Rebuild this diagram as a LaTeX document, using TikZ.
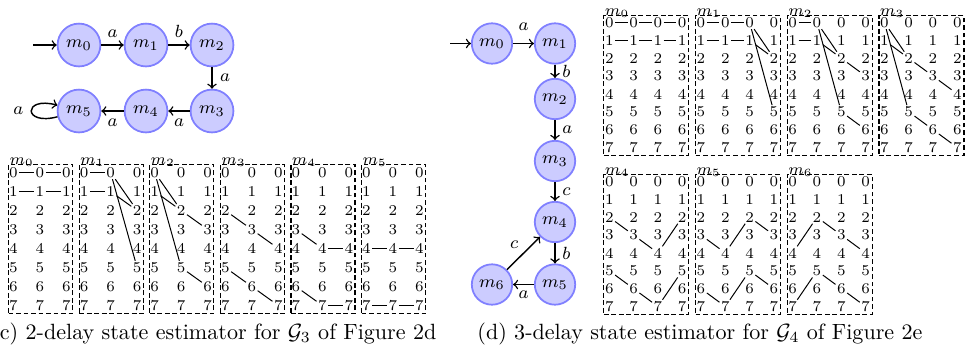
\RequirePackage{fix-cm}
\documentclass[tikz,border=0pt]{standalone}
\begin{document}
\begin{tikzpicture}[x=0.453pt,y=-0.453pt,
  st3/.style={circle,draw=blue!50,fill=blue!20,line width=0.8pt,minimum size=19.4pt,inner sep=0pt,font=\fontsize{8}{9.6}\selectfont},
  st4/.style={st3,minimum size=18.3pt},
  tr/.style={->,line width=0.65pt},
  lab/.style={font=\fontsize{8}{9.6}\selectfont,inner sep=3.3pt},
  dig/.style={font=\fontsize{6.8}{7.5}\selectfont,inner sep=0.5pt},
  mbox/.style={draw,line width=0.5pt,dash pattern=on 2.2pt off 1.2pt,anchor=north west,inner sep=0pt},
  mlab/.style={font=\fontsize{7}{8}\selectfont,inner sep=0pt,anchor=base west},
  ml/.style={line width=0.45pt},
  captxt/.style={font=\fontsize{10}{12}\selectfont,inner sep=0pt,anchor=base west}
]
\useasboundingbox (0,0) rectangle (969,349);

% ---------- G3 automaton ----------
\node[st3] (a0) at (79,45) {$m_0$};
\node[st3] (a1) at (146,45) {$m_1$};
\node[st3] (a2) at (212,45) {$m_2$};
\node[st3] (a3) at (212,111) {$m_3$};
\node[st3] (a4) at (146,111) {$m_4$};
\node[st3] (a5) at (79,111) {$m_5$};
\coordinate (ai) at (33,45);
\draw[tr] (ai) -- (a0);
\draw[tr] (a0) -- node[lab,above]{$a$} (a1);
\draw[tr] (a1) -- node[lab,above]{$b$} (a2);
\draw[tr] (a2) -- node[lab,right]{$a$} (a3);
\draw[tr] (a3) -- node[lab,below]{$a$} (a4);
\draw[tr] (a4) -- node[lab,below]{$a$} (a5);
\draw[tr] (a5) to[loop left] node[lab,left]{$a$} (a5);

% ---------- G4 automaton ----------
\node[st4] (b0) at (492,43.5) {$m_0$};
\node[st4] (b1) at (555,43.5) {$m_1$};
\node[st4] (b2) at (555,99) {$m_2$};
\node[st4] (b3) at (555,161) {$m_3$};
\node[st4] (b4) at (555,222) {$m_4$};
\node[st4] (b5) at (555,284.5) {$m_5$};
\node[st4] (b6) at (492,284.5) {$m_6$};
\coordinate (bi) at (450,43.5);
\draw[tr] (bi) -- (b0);
\draw[tr] (b0) -- node[lab,above,yshift=2.4pt]{$a$} (b1);
\draw[tr] (b1) -- node[lab,right,inner sep=3pt]{$b$} (b2);
\draw[tr] (b2) -- node[lab,right,inner sep=3pt]{$a$} (b3);
\draw[tr] (b3) -- node[lab,right,inner sep=3pt]{$c$} (b4);
\draw[tr] (b4) -- node[lab,right,inner sep=3pt]{$b$} (b5);
\draw[tr] (b5) -- node[lab,below,inner sep=2.7pt]{$a$} (b6);
\draw[tr] (b6) -- node[lab,above left,inner sep=2pt]{$c$} (b4);

% ---------- G3 estimator matrices ----------
\foreach \i in {0,...,5}{
  \node[mbox,minimum width=29pt,minimum height=67.5pt] (ba\i) at ({8+70.6*\i},164) {};
  \node[mlab] (la\i) at ([xshift=0.5pt]ba\i.north west) {$m_{\i}$};
  \foreach \r in {0,...,7}{
    \foreach \c in {0,1,2}{
      \node[dig] (p\i-\r-\c) at ({8+70.6*\i+5.5+26.5*\c},{172.5+19*\r}) {\r};
    }
  }
}
\foreach \u/\v in {0-0-0/0-0-1, 0-0-1/0-0-2, 0-1-0/0-1-1, 0-1-1/0-1-2,
 1-0-0/1-0-1, 1-1-0/1-1-1, 1-0-1/1-2-2, 1-1-1/1-2-2, 1-0-1/1-5-2,
 2-0-0/2-2-1, 2-1-0/2-2-1, 2-0-0/2-5-1, 2-2-1/2-3-2, 2-5-1/2-6-2,
 3-2-0/3-3-1, 3-3-1/3-4-2, 3-5-0/3-6-1, 3-6-1/3-7-2,
 4-3-0/4-4-1, 4-4-1/4-4-2, 4-6-0/4-7-1, 4-7-1/4-7-2,
 5-4-0/5-4-1, 5-4-1/5-4-2, 5-7-0/5-7-1, 5-7-1/5-7-2}
 \draw[ml] (p\u) -- (p\v);

% ---------- G4 estimator matrices ----------
\foreach \i/\col/\tp in {0/0/15,1/1/15,2/2/15,3/3/15,4/0/174,5/1/174,6/2/174}{
  \node[mbox,minimum width=38.5pt,minimum height=63.2pt] (bb\i) at ({603.3+91.7*\col},\tp) {};
  \node[mlab] (lb\i) at ([xshift=0.5pt]bb\i.north west) {$m_{\i}$};
  \foreach \r in {0,...,7}{
    \foreach \c in {0,1,2,3}{
      \node[dig] (q\i-\r-\c) at ({603.3+91.7*\col+6+24.3*\c},{\tp+7.5+17.86*\r}) {\r};
    }
  }
}
\foreach \u/\v in {0-0-0/0-0-1, 0-0-1/0-0-2, 0-0-2/0-0-3, 0-1-0/0-1-1, 0-1-1/0-1-2, 0-1-2/0-1-3,
 1-0-0/1-0-1, 1-0-1/1-0-2, 1-1-0/1-1-1, 1-1-1/1-1-2, 1-0-2/1-2-3, 1-1-2/1-2-3, 1-0-2/1-5-3,
 2-0-0/2-0-1, 2-1-0/2-1-1, 2-0-1/2-2-2, 2-1-1/2-2-2, 2-0-1/2-5-2, 2-2-2/2-3-3, 2-5-2/2-6-3,
 3-0-0/3-2-1, 3-1-0/3-2-1, 3-0-0/3-5-1, 3-2-1/3-3-2, 3-3-2/3-4-3, 3-5-1/3-6-2, 3-6-2/3-7-3,
 4-2-0/4-3-1, 4-3-1/4-4-2, 4-4-2/4-2-3, 4-5-0/4-6-1, 4-6-1/4-7-2, 4-7-2/4-5-3,
 5-3-0/5-4-1, 5-4-1/5-2-2, 5-2-2/5-3-3, 5-6-0/5-7-1, 5-7-1/5-5-2, 5-5-2/5-6-3,
 6-4-0/6-2-1, 6-2-1/6-3-2, 6-3-2/6-4-3, 6-7-0/6-5-1, 6-5-1/6-6-2, 6-6-2/6-7-3}
 \draw[ml] (q\u) -- (q\v);

% ---------- captions ----------
\node[captxt] (c3) at (-0.5,339) {c) 2-delay state estimator for $\mathcal{G}_3$ of Figure 2d};
\node[captxt] (c4) at (477,339) {(d) 3-delay state estimator for $\mathcal{G}_4$ of Figure 2e};
\end{tikzpicture}
\end{document}
